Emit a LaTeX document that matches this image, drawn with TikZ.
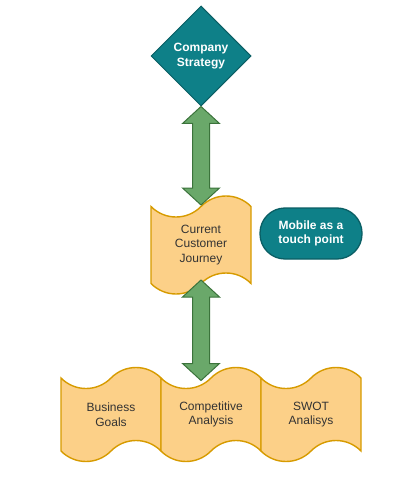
\documentclass[tikz,border=0pt]{standalone}
\usepackage{fontspec}
\setmainfont{Liberation Sans}
\usetikzlibrary{shapes.geometric,shapes.symbols,calc}
\definecolor{tealfill}{HTML}{0E8088}
\definecolor{tealline}{HTML}{0A5E64}
\definecolor{tapefill}{HTML}{FCD088}
\definecolor{tapeline}{HTML}{D79B00}
\definecolor{arrowfill}{HTML}{6AA86A}
\definecolor{arrowline}{HTML}{3B733B}
\definecolor{textgrey}{HTML}{333333}
\tikzset{
  txt/.style={font=\fontsize{12}{14.5}\selectfont, align=center},
  strategy/.style={txt, diamond, draw=tealline, fill=tealfill, text=white, font=\fontsize{12}{14.5}\selectfont\bfseries, minimum width=100pt, minimum height=100pt, inner sep=0pt, line width=1pt},
  tapebox/.style={txt, tape, draw=tapeline, fill=tapefill, text=textgrey, minimum width=100pt, minimum height=98pt, inner sep=0pt, tape bend height=21pt, line width=1.4pt},
  pill/.style={txt, draw=tealline, fill=tealfill, text=white, font=\fontsize{12}{14.5}\selectfont\bfseries, rounded corners=25pt, minimum width=102pt, minimum height=51pt, inner sep=0pt, line width=1.3pt},
  link/.style={draw=arrowline, fill=arrowfill, line width=1pt, line join=miter}
}
% fat double arrow from tip #1 to tip #2
\newcommand{\fatarrow}[2]{
  \path[link] let \p1=#1, \p2=#2 in
    (\p1) -- (\x1+18.5pt,\y1-17pt) -- (\x1+8.5pt,\y1-17pt) -- (\x2+8.5pt,\y2+17pt)
    -- (\x2+18.5pt,\y2+17pt) -- (\p2) -- (\x2-18.5pt,\y2+17pt) -- (\x2-8.5pt,\y2+17pt)
    -- (\x1-8.5pt,\y1-17pt) -- (\x1-18.5pt,\y1-17pt) -- cycle;
}
\begin{document}
\begin{tikzpicture}[x=1pt,y=-1pt]
  \useasboundingbox (0,0) rectangle (404,478);
  \node[strategy] (strat) at (201,56) {Company\\Strategy};
  \node[tapebox] (journey) at (201,245) {Current\\Customer\\Journey};
  \node[pill] (mobile) at (311,233.5) {Mobile as a\\touch point};
  \node[tapebox, minimum height=94pt] (goals) at (111,414.5) {Business\\Goals};
  \node[tapebox, minimum height=94pt] (comp) at (211,414.5) {Competitive\\Analysis};
  \node[tapebox, minimum height=94pt] (swot) at (311,414.5) {SWOT\\Analisys};
  % arrows between the blocks
  \fatarrow{(strat.south)}{($(journey.center)+(0,-40)$)}
  \fatarrow{($(journey.center)+(0,35)$)}{($(journey.center |- comp.center)+(0,-34)$)}
\end{tikzpicture}
\end{document}
